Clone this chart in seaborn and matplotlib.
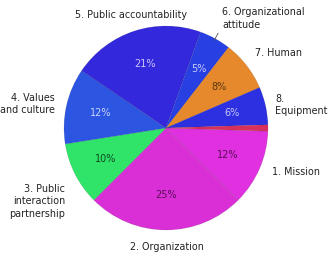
import matplotlib
matplotlib.use("Agg")
import matplotlib.pyplot as plt
import seaborn as sns
import numpy as np

sns.set_theme(style="white")
plt.rcParams['font.family'] = ['DejaVu Sans']

categories = ["1. Mission", "2. Organization", "3. Public\ninteraction\npartnership",
              "4. Values\nand culture", "5. Public accountability",
              "6. Organizational\nattitude", "7. Human", "8.\nEquipment", ""]
values = [12, 25, 10, 12, 21, 5, 8, 6, 1]
colors = ["#E030E0", "#DA2FD6", "#30E46A", "#2C56E2", "#3428DC",
          "#2840E2", "#E6892C", "#2C30E0", "#D8305C"]
pct_colors = ["#5A0E5A", "#5A0E5A", "#0E4A1E", "#C8D4FA", "#CCC6F8",
              "#C8CCF8", "#5A3410", "#C8C8F8", "#000000"]

palette = sns.color_palette(colors)

fig = plt.figure(figsize=(3.31, 2.59), dpi=100)
cx, cy, r = 166, 131, 102
W, H = 331, 259
ax = fig.add_axes([(cx - r) / W, (cy - r) / H, 2 * r / W, 2 * r / H])

wedges, texts, autotexts = ax.pie(
    values, labels=categories, colors=palette, startangle=-1.8,
    counterclock=False, labeldistance=1.13, pctdistance=0.66,
    autopct=lambda p: f"{p:.0f}%" if p >= 2 else "",
    wedgeprops=dict(linewidth=0.4, edgecolor=(0, 0, 0, 0.15)),
    textprops=dict(fontsize=6.9, color="#222222"))
ax.set_xlim(-1, 1)
ax.set_ylim(-1, 1)
ax.set_aspect("equal")

for t, c in zip(autotexts, pct_colors):
    t.set_color(c)
    t.set_fontsize(7)

# label placement (axes data units, radius = 1)
label_pos = [(1.04, -0.43, "left"), (0.01, -1.17, "center"),
             (-0.99, -0.72, "right"), (-1.09, 0.235, "right"),
             (-0.34, 1.11, "center"), (0.55, 1.07, "left"),
             (0.87, 0.735, "left"), (1.07, 0.225, "left")]
for t, (x, y, ha) in zip(texts, label_pos):
    t.set_position((x, y))
    t.set_ha(ha)
    t.set_va("center")
    t.set_linespacing(1.35)

# leader line for label 6
w = wedges[5]
mid = np.deg2rad((w.theta1 + w.theta2) / 2)
ax.plot([0.98 * np.cos(mid), 1.06 * np.cos(mid)],
        [0.98 * np.sin(mid), 1.06 * np.sin(mid)],
        color="#555555", lw=0.6, clip_on=False)

fig.savefig("out.png", dpi=100)
